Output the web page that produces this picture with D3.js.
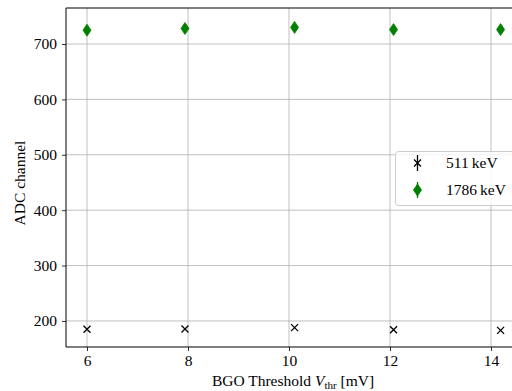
<!DOCTYPE html>
<html>
<head>
<meta charset="utf-8">
<script src="https://cdn.jsdelivr.net/npm/d3@7"></script>
<style>
  body { margin: 0; background: #fff; }
  svg { display: block; font-family: "Liberation Serif", "DejaVu Serif", serif; }
</style>
</head>
<body>
<svg id="chart" width="512" height="391"></svg>
<script>
// BGO threshold [mV]
const thresholds = [6.0, 7.94, 10.11, 12.07, 14.19]
// ADC channel per peak
const peak511 = [185, 185.5, 188, 184, 183]
const peak1786 = [725, 728, 730, 726, 726]
const xTicks = [6, 8, 10, 12, 14]
const yTicks = [200, 300, 400, 500, 600, 700]
const seriesNames = ['511\u2009keV', '1786\u2009keV']

const svg = d3.select('#chart')
const mLeft = 66, mRight = 512, mTop = 8, mBottom = 347
const fs = 15.5

const x = d3.scaleLinear().domain([5.584, 14.416]).range([mLeft, mRight])
const y = d3.scaleLinear().domain([153, 765]).range([mBottom, mTop])

// grid
const grid = svg.append('g')
grid.selectAll('line.gx').data(xTicks).enter().append('line')
  .attr('x1', d => x(d)).attr('x2', d => x(d))
  .attr('y1', mTop).attr('y2', mBottom)
  .attr('stroke', '#b0b0b0').attr('stroke-width', 0.8)
grid.selectAll('line.gy').data(yTicks).enter().append('line')
  .attr('x1', mLeft).attr('x2', mRight)
  .attr('y1', d => y(d)).attr('y2', d => y(d))
  .attr('stroke', '#b0b0b0').attr('stroke-width', 0.8)

// axes
const xAxis = svg.append('g').attr('transform', `translate(0,${mBottom})`)
  .call(d3.axisBottom(x).tickValues(xTicks).tickSize(4).tickPadding(4))
const yAxis = svg.append('g').attr('transform', `translate(${mLeft},0)`)
  .call(d3.axisLeft(y).tickValues(yTicks).tickSize(4).tickPadding(5))
for (const ax of [xAxis, yAxis]) {
  ax.select('.domain').remove()
  ax.selectAll('text').attr('font-size', fs).attr('fill', '#000')
    .style('font-family', '"Liberation Serif", serif')
  ax.selectAll('line').attr('stroke', '#000').attr('stroke-width', 0.8)
}

// spines
svg.append('line').attr('x1', mLeft).attr('x2', mLeft).attr('y1', mTop).attr('y2', mBottom)
  .attr('stroke', '#000').attr('stroke-width', 1)
svg.append('line').attr('x1', mLeft).attr('x2', mRight).attr('y1', mBottom).attr('y2', mBottom)
  .attr('stroke', '#000').attr('stroke-width', 1)
svg.append('line').attr('x1', mLeft).attr('x2', mRight).attr('y1', mTop).attr('y2', mTop)
  .attr('stroke', '#000').attr('stroke-width', 1)

// markers
const diamond = (cx, cy) => `M${cx},${cy - 6}L${cx + 4},${cy}L${cx},${cy + 6}L${cx - 4},${cy}Z`
const cross = (cx, cy) => `M${cx - 3.5},${cy - 3.5}L${cx + 3.5},${cy + 3.5}M${cx - 3.5},${cy + 3.5}L${cx + 3.5},${cy - 3.5}`

svg.append('g').selectAll('path').data(thresholds).enter().append('path')
  .attr('d', (d, i) => cross(x(d), y(peak511[i])))
  .attr('stroke', '#000').attr('stroke-width', 1.3).attr('fill', 'none')

svg.append('g').selectAll('path').data(thresholds).enter().append('path')
  .attr('d', (d, i) => diamond(x(d), y(peak1786[i])))
  .attr('fill', '#008000').attr('stroke', '#008000').attr('stroke-width', 0.8)

// legend
const lg = svg.append('g')
lg.append('rect').attr('x', 395.5).attr('y', 151.5).attr('width', 130).attr('height', 54)
  .attr('rx', 3).attr('fill', 'rgba(255,255,255,0.8)').attr('stroke', '#ccc').attr('stroke-width', 1)
const lx = 417.5
lg.append('path').attr('d', cross(lx, 163))
  .attr('stroke', '#000').attr('stroke-width', 1.3).attr('fill', 'none')
lg.append('line').attr('x1', lx).attr('x2', lx).attr('y1', 155).attr('y2', 171)
  .attr('stroke', '#000').attr('stroke-width', 1.3)
lg.append('path').attr('d', diamond(lx, 190))
  .attr('fill', '#008000').attr('stroke', '#008000').attr('stroke-width', 0.8)
lg.append('line').attr('x1', lx).attr('x2', lx).attr('y1', 182).attr('y2', 198)
  .attr('stroke', '#008000').attr('stroke-width', 1.3)
lg.selectAll('text.lt').data(seriesNames).enter().append('text')
  .attr('x', 446).attr('y', (d, i) => 168 + i * 27)
  .attr('font-size', fs).text(d => d)

// axis labels
svg.append('text').attr('transform', `translate(25,183) rotate(-90)`)
  .attr('text-anchor', 'middle').attr('font-size', fs).text('ADC channel')

const xl = svg.append('text').attr('x', 293).attr('y', 386)
  .attr('text-anchor', 'middle').attr('font-size', fs)
xl.append('tspan').text('BGO Threshold ')
xl.append('tspan').attr('font-style', 'italic').text('V')
xl.append('tspan').attr('font-size', 11).attr('dy', 3).text('thr')
xl.append('tspan').attr('dy', -3).text(' [mV]')
</script>
</body>
</html>
